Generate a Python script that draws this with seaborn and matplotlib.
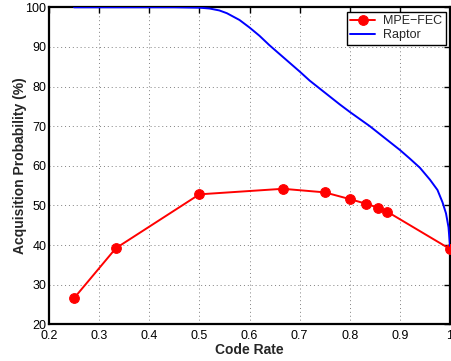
import matplotlib
matplotlib.use("Agg")
import matplotlib.pyplot as plt
import seaborn as sns
import pandas as pd

# MPE-FEC acquisition probability at the standard code rates
mpe_rate = [1/4, 1/3, 1/2, 2/3, 3/4, 4/5, 5/6, 6/7, 7/8, 1.0]
mpe_prob = [26.6, 39.2, 52.8, 54.2, 53.3, 51.6, 50.4, 49.4, 48.4, 39.0]

# Raptor acquisition probability versus code rate
raptor_rate = [0.25, 0.30, 0.35, 0.40, 0.45, 0.50, 0.52, 0.54, 0.555, 0.58,
               0.60, 0.62, 0.64, 0.66, 0.68, 0.70, 0.72, 0.74, 0.76, 0.78,
               0.80, 0.82, 0.84, 0.86, 0.88, 0.90, 0.92, 0.94, 0.96, 0.975,
               0.985, 0.992, 0.997, 1.0]
raptor_prob = [100.0, 100.0, 100.0, 100.0, 100.0, 99.9, 99.7, 99.2, 98.5, 96.8,
               94.9, 92.8, 90.4, 88.2, 86.0, 83.8, 81.5, 79.5, 77.5, 75.5,
               73.6, 71.8, 70.0, 68.0, 66.0, 64.0, 61.8, 59.5, 56.5, 53.9,
               50.8, 48.0, 44.5, 39.8]

x_ticks = [0.2, 0.3, 0.4, 0.5, 0.6, 0.7, 0.8, 0.9, 1.0]
x_ticklabels = ["0.2", "0.3", "0.4", "0.5", "0.6", "0.7", "0.8", "0.9", "1"]
y_ticks = [20, 30, 40, 50, 60, 70, 80, 90, 100]

sns.set_style("white")
plt.rcParams["font.family"] = ["Liberation Sans", "DejaVu Sans"]

fig = plt.figure(figsize=(4.52, 3.61), dpi=100)
ax = fig.add_axes([0.1084, 0.1016, 0.8872, 0.8782])

mpe_df = pd.DataFrame({"rate": mpe_rate, "prob": mpe_prob})
raptor_df = pd.DataFrame({"rate": raptor_rate, "prob": raptor_prob})

sns.lineplot(data=mpe_df, x="rate", y="prob", ax=ax, color="#ff0000",
             linewidth=1.4, marker="o", markersize=7,
             markeredgecolor="#ff0000", markerfacecolor="#ff0000",
             label="MPE\u2212FEC", sort=False, zorder=3)
sns.lineplot(data=raptor_df, x="rate", y="prob", ax=ax, color="#0000ff",
             linewidth=1.4, label="Raptor", sort=False, zorder=4)

ax.set_xlim(0.2, 1.0)
ax.set_ylim(20, 100)
ax.set_xticks(x_ticks)
ax.set_xticklabels(x_ticklabels)
ax.set_yticks(y_ticks)

ax.grid(True, linestyle=(0, (1, 3)), color="#808080", linewidth=0.7)
ax.tick_params(direction="in", top=True, right=True, length=4, width=1.0,
               labelsize=9, colors="black")
ax.tick_params(axis="x", pad=4)
ax.tick_params(axis="y", pad=2)
for s in ax.spines.values():
    s.set_color("black")
    s.set_linewidth(1.6)

ax.set_xlabel("Code Rate", fontsize=10, fontweight="bold", labelpad=1)
ax.set_ylabel("Acquisition Probability (%)", fontsize=10, fontweight="bold",
              labelpad=-1)

leg = ax.legend(loc="upper right", fontsize=9, frameon=True, fancybox=False,
                edgecolor="black", framealpha=1, borderaxespad=0.35,
                handlelength=2.0, borderpad=0.3, labelspacing=0.15,
                handletextpad=0.6)
leg.get_frame().set_linewidth(1.0)

fig.savefig("out.png", dpi=100)
